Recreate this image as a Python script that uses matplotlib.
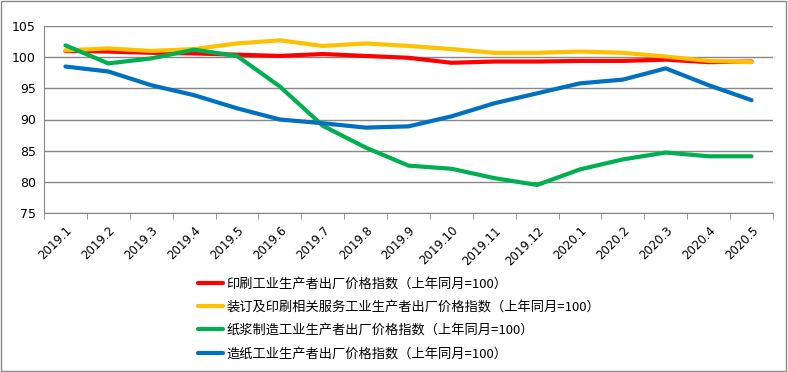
import matplotlib
matplotlib.use("Agg")
import matplotlib.pyplot as plt
from matplotlib.patches import Rectangle

plt.rcParams['font.family'] = ['Noto Sans CJK SC', 'DejaVu Sans']

months = ["2019.1", "2019.2", "2019.3", "2019.4", "2019.5", "2019.6", "2019.7", "2019.8",
          "2019.9", "2019.10", "2019.11", "2019.12", "2020.1", "2020.2", "2020.3", "2020.4", "2020.5"]
printing = [101.0, 100.9, 100.7, 100.6, 100.4, 100.2, 100.5, 100.2, 99.9, 99.1, 99.3, 99.3, 99.4, 99.4, 99.6, 99.2, 99.3]
binding = [101.1, 101.4, 101.0, 101.3, 102.2, 102.7, 101.8, 102.2, 101.8, 101.3, 100.7, 100.7, 100.9, 100.7, 100.1, 99.4, 99.2]
pulp = [101.9, 99.0, 99.8, 101.2, 100.2, 95.3, 89.0, 85.5, 82.6, 82.1, 80.6, 79.5, 82.0, 83.6, 84.7, 84.1, 84.1]
paper = [98.5, 97.7, 95.5, 93.9, 91.8, 90.0, 89.4, 88.7, 88.9, 90.5, 92.6, 94.2, 95.8, 96.4, 98.2, 95.5, 93.1]

labels = ["印刷工业生产者出厂价格指数（上年同月=100）",
          "装订及印刷相关服务工业生产者出厂价格指数（上年同月=100）",
          "纸浆制造工业生产者出厂价格指数（上年同月=100）",
          "造纸工业生产者出厂价格指数（上年同月=100）"]
colors = ["#FF0000", "#FFC000", "#00B050", "#0070C0"]

fig = plt.figure(figsize=(7.88, 3.72), dpi=100)
ax = fig.add_axes([44/788, 1-213/372, (773-44)/788, (213-26)/372])

x = list(range(len(months)))
lines = []
for s, c, l in zip([printing, binding, pulp, paper], colors, labels):
    ln, = ax.plot(x, s, color=c, lw=3, label=l, solid_capstyle='round')
    lines.append(ln)

ax.set_xlim(-0.5, len(months) - 0.5)
ax.set_ylim(75, 105)
ax.set_yticks(range(75, 106, 5))
ax.set_xticks(x)
ax.set_xticklabels(months, rotation=45, ha='right', va='top', rotation_mode='anchor',
                   fontsize=8.5, family=['DejaVu Sans'])
ax.set_xticks([i - 0.5 for i in range(len(months) + 1)], minor=True)
ax.tick_params(axis='x', which='major', length=0, pad=8)
ax.tick_params(axis='x', which='minor', length=4, color='#888888')
ax.tick_params(axis='y', length=0, labelsize=9, pad=6)
for lab in ax.get_xticklabels():
    lab.set_x(lab.get_position()[0])
for lab in ax.get_yticklabels():
    lab.set_family(['DejaVu Sans'])
ax.grid(axis='y', color='#888888', lw=1)
ax.set_axisbelow(True)
for sp in ['top', 'right']:
    ax.spines[sp].set_visible(False)
ax.spines['left'].set_color('#888888')
ax.spines['bottom'].set_color('#888888')

fig.legend(handles=lines, loc='upper left', bbox_to_anchor=(193/788, 1-272/372),
           frameon=False, fontsize=9.5, handlelength=1.9, labelspacing=0.78,
           handletextpad=0.25, borderaxespad=0)

fig.patches.append(Rectangle((0.001, 0.002), 0.997, 0.996, transform=fig.transFigure,
                             fill=False, edgecolor='#888888', lw=1))
fig.savefig("out.png", dpi=100)
